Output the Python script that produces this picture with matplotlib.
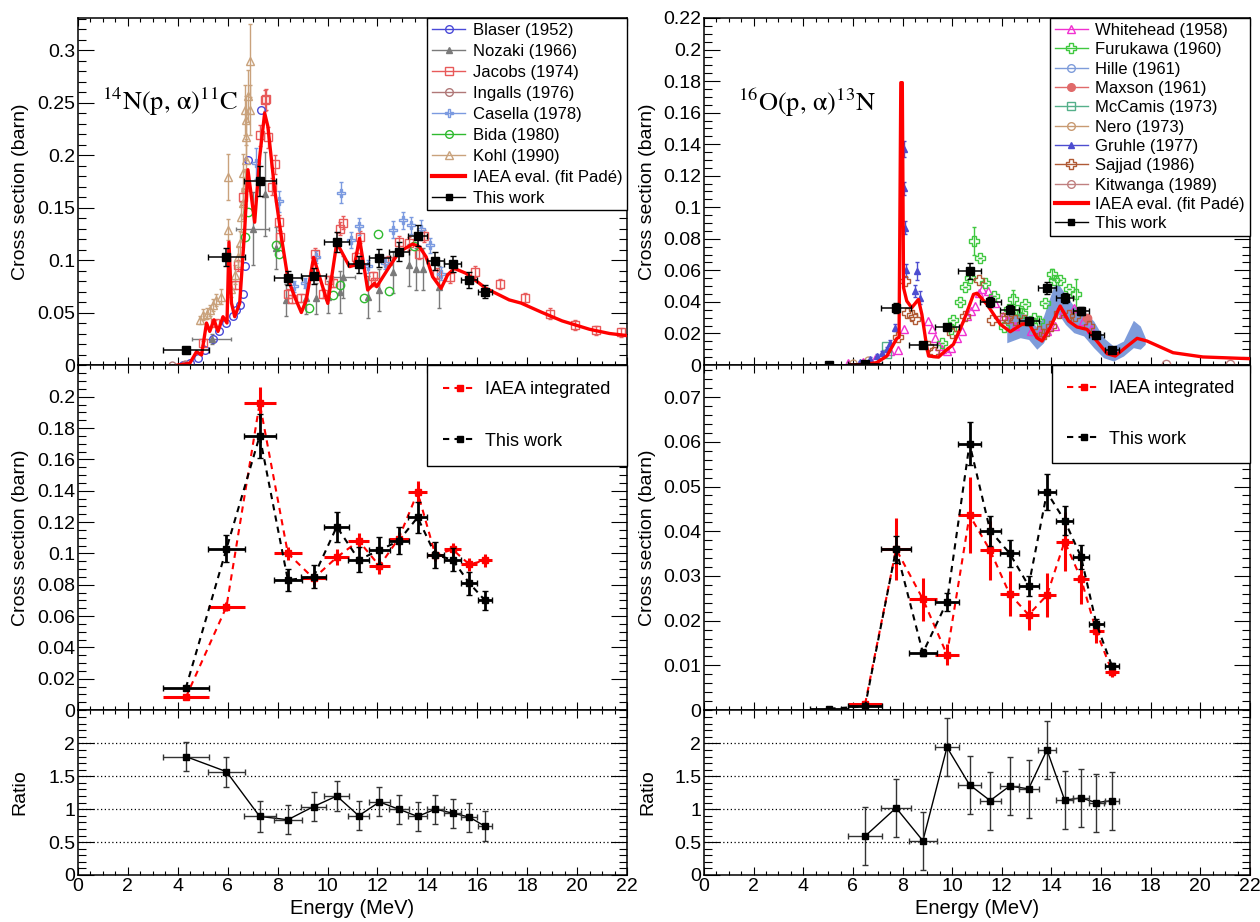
import matplotlib
matplotlib.use('Agg')
import matplotlib.pyplot as plt
from matplotlib.lines import Line2D
from matplotlib.ticker import MultipleLocator, FixedLocator, FuncFormatter

plt.rcParams['font.family'] = ['Liberation Sans', 'DejaVu Sans']
plt.rcParams['mathtext.fontset'] = 'stix'

# ---------------- LEFT: 14N(p,a)11C ----------------
E_L = [4.32, 5.95, 7.28, 8.41, 9.44, 10.37, 11.25, 12.08, 12.85, 13.61, 14.32, 15.01, 15.68, 16.31]
dE_L = [0.93, 0.73, 0.64, 0.55, 0.5, 0.5, 0.43, 0.42, 0.4, 0.38, 0.33, 0.35, 0.32, 0.3]
sig_L = [0.014, 0.103, 0.175, 0.083, 0.085, 0.117, 0.096, 0.102, 0.108, 0.123, 0.099, 0.096, 0.081, 0.070]
dsig_L = [0.0015, 0.0087, 0.0143, 0.007, 0.0074, 0.0097, 0.008, 0.0085, 0.0087, 0.01, 0.0085, 0.0074, 0.0074, 0.006]
iaea_L = [0.008, 0.066, 0.196, 0.100, 0.084, 0.0975, 0.108, 0.092, 0.1095, 0.139, 0.099, 0.1025, 0.093, 0.0955]
diaea_L = [0.001, 0.003, 0.01, 0.004, 0.004, 0.005, 0.005, 0.005, 0.004, 0.007, 0.004, 0.004, 0.004, 0.004]
ratio_L = [1.80, 1.57, 0.89, 0.84, 1.04, 1.20, 0.90, 1.11, 1.00, 0.89, 1.00, 0.94, 0.88, 0.74]
dratio_L = [0.22, 0.23, 0.23, 0.22, 0.22, 0.23, 0.22, 0.22, 0.22, 0.22, 0.22, 0.22, 0.22, 0.23]

fitL_E = [4.01, 4.48, 4.75, 4.95, 5.15, 5.28, 5.45, 5.61, 5.81, 5.97, 6.05, 6.15, 6.28, 6.48, 6.68, 6.81,
          6.95, 7.08, 7.28, 7.48, 7.61, 7.88, 8.15, 8.41, 8.68, 8.95, 9.15, 9.44, 10.01, 10.37, 10.88,
          11.08, 11.28, 11.61, 11.88, 11.97, 12.48, 12.88, 13.41, 13.68, 13.95, 14.21, 14.55, 14.81,
          15.08, 15.55, 16.35, 17.28, 17.75, 18.6, 19.4, 20.5, 21.3, 22.0]
fitL_s = [0.0, 0.0016, 0.0127, 0.0095, 0.040, 0.032, 0.043, 0.032, 0.046, 0.040, 0.117, 0.059, 0.046, 0.059,
          0.129, 0.186, 0.160, 0.136, 0.198, 0.240, 0.227, 0.167, 0.122, 0.0825, 0.065, 0.050, 0.062, 0.1025,
          0.0587, 0.1165, 0.0937, 0.095, 0.1206, 0.0714, 0.0778, 0.0746, 0.0937, 0.108, 0.1152, 0.1127,
          0.103, 0.0841, 0.073, 0.0857, 0.092, 0.0873, 0.073, 0.062, 0.059, 0.050, 0.042, 0.034, 0.030, 0.028]

blaser_E = [4.2, 4.5, 4.8, 5.1, 5.4, 5.65, 5.95, 6.2, 6.35, 6.5, 6.6, 6.68, 6.81, 7.35]
blaser_s = [0.0, 0.002, 0.007, 0.014, 0.025, 0.032, 0.040, 0.047, 0.052, 0.057, 0.068, 0.094, 0.195, 0.243]

nozaki_E = [5.35, 7.0, 7.48, 7.95, 8.35, 9.15, 9.55, 10.01, 10.51, 10.61, 11.61, 12.08, 12.64, 13.28, 13.55, 13.84, 14.48]
nozaki_s = [0.025, 0.13, 0.163, 0.111, 0.062, 0.0635, 0.0635, 0.065, 0.070, 0.084, 0.065, 0.071, 0.089, 0.095, 0.091, 0.091, 0.074]
nozaki_dE = [0.8, 0.67, 0, 0, 0, 0, 0, 0, 0, 0.5, 0, 0, 0, 0, 0, 0, 0]
nozaki_ds = [0.005, 0.035, 0.04, 0.02, 0.015, 0.015, 0.015, 0.015, 0.02, 0.02, 0.02, 0.02, 0.02, 0.02, 0.02, 0.02, 0.02]

jacobs_E = [5.01, 5.5, 6.28, 6.41, 6.6, 7.28, 7.48, 7.55, 7.61, 7.76, 7.9, 8.05, 8.1, 8.41, 8.58, 8.95, 9.48,
            9.8, 10.04, 10.2, 10.49, 10.6, 11.16, 11.29, 11.81, 11.89, 12.42, 12.85, 13.25, 13.65, 13.86,
            14.38, 14.89, 15.9, 16.92, 17.91, 18.9, 19.92, 20.77, 21.77]
jacobs_s = [0.021, 0.04, 0.076, 0.095, 0.160, 0.219, 0.252, 0.253, 0.217, 0.170, 0.191, 0.136, 0.122, 0.068,
            0.063, 0.064, 0.106, 0.068, 0.081, 0.078, 0.130, 0.1355, 0.103, 0.122, 0.085, 0.079, 0.099, 0.117,
            0.116, 0.106, 0.123, 0.087, 0.0835, 0.089, 0.077, 0.0635, 0.049, 0.038, 0.033, 0.031]
jacobs_ds = [0.002, 0.003, 0.004, 0.005, 0.008, 0.01, 0.01, 0.01, 0.01, 0.008, 0.009, 0.007, 0.006, 0.004,
             0.004, 0.004, 0.005, 0.004, 0.004, 0.004, 0.006, 0.006, 0.005, 0.006, 0.004, 0.004, 0.005, 0.006,
             0.006, 0.005, 0.006, 0.005, 0.005, 0.005, 0.005, 0.005, 0.005, 0.005, 0.004, 0.004]

ingalls_E = [3.76, 4.3]
ingalls_s = [0.0, 0.001]

casella_E = [7.15, 8.06, 8.64, 9.11, 9.53, 10.52, 10.92, 11.28, 11.61, 12.29, 12.64, 13.01, 13.33, 13.73, 14.09, 14.54]
casella_s = [0.192, 0.156, 0.075, 0.078, 0.103, 0.164, 0.119, 0.132, 0.094, 0.097, 0.129, 0.138, 0.133, 0.130, 0.114, 0.087]
casella_ds = [0.015, 0.01, 0.005, 0.005, 0.006, 0.01, 0.008, 0.008, 0.006, 0.006, 0.008, 0.008, 0.008, 0.008, 0.007, 0.006]

bida_E = [6.68, 6.81, 7.95, 8.05, 9.25, 10.21, 10.51, 11.48, 12.01, 12.48, 13.48]
bida_s = [0.122, 0.146, 0.114, 0.106, 0.054, 0.067, 0.076, 0.0635, 0.125, 0.0705, 0.113]

kohl_E = [4.88, 5.01, 5.15, 5.28, 5.41, 5.55, 5.75, 6.01, 6.01, 6.15, 6.28, 6.41, 6.48, 6.55, 6.61, 6.61,
          6.68, 6.68, 6.75, 6.75, 6.75, 6.81, 6.88, 6.88]
kohl_s = [0.043, 0.048, 0.049, 0.052, 0.057, 0.062, 0.065, 0.129, 0.179, 0.072, 0.086, 0.103, 0.116, 0.141,
          0.154, 0.183, 0.170, 0.243, 0.195, 0.217, 0.233, 0.256, 0.243, 0.29]
kohl_ds = [0.004, 0.005, 0.005, 0.005, 0.006, 0.006, 0.007, 0.01, 0.022, 0.007, 0.009, 0.01, 0.012, 0.014,
           0.015, 0.018, 0.017, 0.024, 0.02, 0.022, 0.023, 0.025, 0.024, 0.035]

# ---------------- RIGHT: 16O(p,a)13N ----------------
E_R = [5.05, 6.49, 7.74, 8.82, 9.79, 10.7, 11.53, 12.31, 13.08, 13.82, 14.53, 15.19, 15.81, 16.44]
dE_R = [0.77, 0.68, 0.6, 0.55, 0.48, 0.47, 0.42, 0.4, 0.4, 0.38, 0.35, 0.33, 0.3, 0.3]
sig_R = [0.0003, 0.0008, 0.036, 0.0128, 0.0242, 0.0596, 0.0401, 0.0351, 0.0278, 0.0487, 0.0424, 0.0343, 0.0193, 0.0098]
dsig_R = [0.0002, 0.0003, 0.003, 0.0008, 0.002, 0.0048, 0.0033, 0.003, 0.0022, 0.004, 0.0032, 0.0027, 0.001, 0.0007]
Ei_R = [6.49, 7.74, 8.82, 9.79, 10.7, 11.53, 12.31, 13.08, 13.82, 14.53, 15.19, 15.81, 16.44]
dEi_R = [0.68, 0.6, 0.55, 0.48, 0.47, 0.42, 0.4, 0.4, 0.38, 0.35, 0.33, 0.3, 0.3]
iaea_R = [0.0013, 0.036, 0.0248, 0.0124, 0.0436, 0.0357, 0.026, 0.0213, 0.0257, 0.0377, 0.0294, 0.0176, 0.0086]
diaea_R = [0.0003, 0.007, 0.0048, 0.0023, 0.0085, 0.0065, 0.005, 0.0033, 0.005, 0.0067, 0.0057, 0.0025, 0.0012]
ratio_R = [0.59, 1.02, 0.52, 1.94, 1.37, 1.13, 1.35, 1.31, 1.90, 1.14, 1.17, 1.10, 1.13]
dratio_R = [0.44, 0.44, 0.44, 0.44, 0.44, 0.44, 0.44, 0.44, 0.44, 0.44, 0.44, 0.44, 0.44]

fitR_E = [5.89, 6.5, 6.96, 7.37, 7.77, 7.86, 7.93, 7.99, 8.04, 8.17, 8.37, 8.64, 8.78, 8.98, 9.05, 9.45, 9.72,
          10.05, 10.46, 10.86, 11.0, 11.4, 11.94, 12.34, 12.81, 13.08, 13.41, 13.62, 13.95, 14.35, 14.69,
          15.03, 15.43, 15.83, 16.24, 16.57, 16.98, 17.45, 17.85, 18.9, 20.1, 22.0]
fitR_s = [0.0, 0.0005, 0.0015, 0.0057, 0.0169, 0.0175, 0.179, 0.179, 0.049, 0.0406, 0.0363, 0.0416, 0.032,
          0.011, 0.0057, 0.005, 0.0089, 0.0131, 0.0279, 0.0448, 0.0455, 0.0385, 0.0258, 0.0211, 0.0258,
          0.0268, 0.0173, 0.0152, 0.0237, 0.0374, 0.0279, 0.0241, 0.0226, 0.0152, 0.0072, 0.0057, 0.011,
          0.0169, 0.0152, 0.0078, 0.0051, 0.004]

wh_E = [5.8, 6.4, 6.9, 7.5, 7.83, 8.06, 9.04, 9.18, 9.31, 9.45, 9.6, 9.79, 9.95, 10.19, 10.39, 10.59, 10.75,
        10.93, 11.08, 11.2, 11.43, 11.53, 11.73, 12.05, 12.2, 12.54, 13.19, 13.55, 13.83, 14.16, 14.48,
        14.89, 15.29, 15.61]
wh_s = [0.001, 0.002, 0.004, 0.0089, 0.0095, 0.0226, 0.0279, 0.0226, 0.0173, 0.012, 0.0099, 0.0089, 0.011,
        0.0173, 0.0216, 0.031, 0.034, 0.0374, 0.0458, 0.048, 0.047, 0.0427, 0.0395, 0.031, 0.029, 0.0247,
        0.0215, 0.0205, 0.0215, 0.0247, 0.0331, 0.0363, 0.0279, 0.0226]

fu_E = [9.58, 9.95, 10.05, 10.32, 10.52, 10.73, 10.86, 11.13, 11.33, 11.67, 12.09, 12.27, 12.47, 12.6,
        12.81, 12.94, 13.28, 13.48, 13.75, 14.02, 14.09, 14.35, 14.7, 15.0]
fu_s = [0.014, 0.0226, 0.0283, 0.040, 0.0495, 0.055, 0.0786, 0.068, 0.052, 0.044, 0.024, 0.0353, 0.0417,
        0.035, 0.0332, 0.0384, 0.030, 0.0279, 0.0395, 0.0579, 0.0536, 0.0537, 0.048, 0.0448]
fu_ds = [0.0, 0.0, 0.0, 0.0, 0.0, 0.0, 0.009, 0.0, 0.0, 0.0, 0.0, 0.0, 0.006, 0.0, 0.0, 0.0, 0.0, 0.0,
         0.0, 0.003, 0.0, 0.0, 0.0, 0.01]

hi_E = [12.2, 12.74, 13.08, 13.41, 13.68, 14.09, 14.29, 14.56, 14.9, 15.3, 15.7, 16.1, 16.5, 16.9, 17.3, 17.58, 17.78]
hi_lo = [0.0141, 0.0173, 0.0162, 0.010, 0.0141, 0.0279, 0.0321, 0.0258, 0.0205, 0.0184, 0.011, 0.0046,
         0.0025, 0.0057, 0.011, 0.010, 0.0131]
hi_hi = [0.031, 0.0332, 0.031, 0.0237, 0.031, 0.050, 0.0512, 0.0448, 0.0374, 0.0342, 0.0279, 0.0173,
         0.012, 0.0152, 0.0283, 0.0247, 0.0173]

maxson_E = [15.43]
maxson_s = [0.030]
mccamis_E = [7.34, 7.36]
mccamis_s = [0.012, 0.0068]
nero_E = [6.0, 6.6]
nero_s = [0.001, 0.003]
gr_E = [6.3, 6.69, 6.96, 7.17, 7.37, 7.5, 7.7, 8.04, 8.06, 8.1, 8.15, 8.51, 8.58, 8.71]
gr_s = [0.002, 0.004, 0.0057, 0.0078, 0.010, 0.014, 0.0237, 0.137, 0.112, 0.087, 0.060, 0.047, 0.0596, 0.0427]
gr_ds = [0.0005, 0.0008, 0.001, 0.001, 0.0015, 0.002, 0.002, 0.005, 0.004, 0.004, 0.004, 0.004, 0.006, 0.004]
sa_E = [7.8, 8.1, 8.17, 8.37, 8.51, 9.04, 9.25, 9.99, 10.52, 11.08, 11.6, 12.0, 12.2, 12.52, 12.9, 13.48,
        13.68, 14.0, 14.29, 14.7, 14.96, 15.5]
sa_s = [0.018, 0.053, 0.033, 0.032, 0.029, 0.012, 0.008, 0.0205, 0.031, 0.054, 0.0288, 0.030, 0.0298,
        0.0283, 0.0283, 0.0215, 0.0195, 0.0247, 0.0332, 0.032, 0.031, 0.0247]
kit_E = [18.6, 21.2]
kit_s = [0.0008, 0.0008]

# tick values
xticks = [0, 2, 4, 6, 8, 10, 12, 14, 16, 18, 20, 22]
yt_topL = [0, 0.05, 0.1, 0.15, 0.2, 0.25, 0.3]
yt_midL = [0, 0.02, 0.04, 0.06, 0.08, 0.1, 0.12, 0.14, 0.16, 0.18, 0.2]
yt_topR = [0, 0.02, 0.04, 0.06, 0.08, 0.1, 0.12, 0.14, 0.16, 0.18, 0.2, 0.22]
yt_midR = [0, 0.01, 0.02, 0.03, 0.04, 0.05, 0.06, 0.07]
yt_rat = [0, 0.5, 1, 1.5, 2]
ratio_grid = [0.5, 1.0, 1.5, 2.0]

# colours
C_BLASER = '#4a4ad8'; C_NOZAKI = '#7a7a7a'; C_JACOBS = '#e85a5a'; C_INGALLS = '#b07878'
C_CASELLA = '#7b9ae0'; C_BIDA = '#2fba2f'; C_KOHL = '#c9a27c'
C_WH = '#f030d0'; C_FU = '#40c840'; C_HI = '#7e9cda'; C_MAX = '#e06a6a'; C_MCC = '#55b08a'
C_NERO = '#c89a72'; C_GR = '#4d4dd0'; C_SA = '#b05a35'; C_KIT = '#c08080'

fig = plt.figure(figsize=(12.6, 9.22), dpi=100)
LX, LW = 78 / 1260, 549 / 1260
RX, RW = 704 / 1260, 546 / 1260
TOP = (0.60412, 0.37636)
MID = (0.22993, 0.37419)
BOT = (0.05098, 0.17896)

fmt = FuncFormatter(lambda v, p: '%g' % round(v, 4))


def style(ax, yt, yminor, ylim, showx=False):
    ax.set_xlim(0, 22)
    ax.set_ylim(*ylim)
    ax.xaxis.set_major_locator(FixedLocator(xticks))
    ax.xaxis.set_minor_locator(MultipleLocator(0.5))
    ax.yaxis.set_major_locator(FixedLocator(yt))
    ax.yaxis.set_minor_locator(MultipleLocator(yminor))
    ax.xaxis.set_major_formatter(fmt)
    ax.yaxis.set_major_formatter(fmt)
    ax.tick_params(which='both', direction='in', top=True, right=True, width=0.8, labelsize=14, pad=2)
    ax.tick_params(axis='x', which='major', length=5.8)
    ax.tick_params(axis='x', which='minor', length=2.9)
    ax.tick_params(axis='y', which='major', length=11.5)
    ax.tick_params(axis='y', which='minor', length=5.8)
    if not showx:
        ax.tick_params(labelbottom=False)
    for s in ax.spines.values():
        s.set_linewidth(1.1)


def pts(ax, x, y, c, m, filled=False, ms=5.5, yerr=None, xerr=None, z=3):
    ax.errorbar(x, y, yerr=yerr, xerr=xerr, fmt=m, ms=ms, mec=c, mfc=(c if filled else 'none'),
                mew=1.0, ecolor=c, elinewidth=1.0, capsize=1.5, zorder=z)


def hnd(c, m, filled=False, ms=5.5):
    return Line2D([], [], color=c, marker=m, ms=ms, mec=c, mfc=(c if filled else 'none'), lw=1.0)


LEG_KW = dict(frameon=True, fancybox=False, framealpha=1, edgecolor='black', borderaxespad=0,
              handletextpad=0.45, loc='upper right', bbox_to_anchor=(1, 1))
YLAB_X_L = -0.09
YLAB_X_R = -0.088

# ---- top left ----
ax = fig.add_axes([LX, TOP[0], LW, TOP[1]])
style(ax, yt_topL, 0.01, (0, 0.3305))
pts(ax, blaser_E, blaser_s, C_BLASER, 'o')
pts(ax, nozaki_E, nozaki_s, C_NOZAKI, '^', filled=True, ms=5, yerr=nozaki_ds, xerr=nozaki_dE)
pts(ax, jacobs_E, jacobs_s, C_JACOBS, 's', yerr=jacobs_ds)
pts(ax, ingalls_E, ingalls_s, C_INGALLS, 'o', ms=5)
pts(ax, casella_E, casella_s, C_CASELLA, 'P', ms=6, yerr=casella_ds)
pts(ax, bida_E, bida_s, C_BIDA, 'o', ms=6)
pts(ax, kohl_E, kohl_s, C_KOHL, '^', ms=6, yerr=kohl_ds)
ax.plot(fitL_E, fitL_s, color='red', lw=2.4, zorder=5)
ax.errorbar(E_L, sig_L, xerr=dE_L, yerr=dsig_L, fmt='s', ms=5.5, color='black', elinewidth=1.1,
            capsize=2, zorder=6)
ax.text(0.044, 0.735, r'$^{14}$N(p, α)$^{11}$C', transform=ax.transAxes,
        fontsize=19, va='baseline', family='STIXGeneral')
ax.set_ylabel('Cross section (barn)', fontsize=14)
ax.yaxis.set_label_coords(YLAB_X_L, 0.5)
hl = [hnd(C_BLASER, 'o'), hnd(C_NOZAKI, '^', True, 5), hnd(C_JACOBS, 's'), hnd(C_INGALLS, 'o'),
      hnd(C_CASELLA, 'P', ms=6), hnd(C_BIDA, 'o'), hnd(C_KOHL, '^'), Line2D([], [], color='red', lw=3),
      hnd('black', 's', True, 5)]
ll = ['Blaser (1952)', 'Nozaki (1966)', 'Jacobs (1974)', 'Ingalls (1976)', 'Casella (1978)', 'Bida (1980)',
      'Kohl (1990)', 'IAEA eval. (fit Padé)', 'This work']
lg = ax.legend(hl, ll, fontsize=12, labelspacing=0.36, borderpad=0.28, handlelength=2.0, **LEG_KW)
lg.get_frame().set_linewidth(1.0)

# ---- middle left ----
ax = fig.add_axes([LX, MID[0], LW, MID[1]])
style(ax, yt_midL, 0.005, (0, 0.2203))
ax.plot(E_L, iaea_L, color='red', lw=1.5, ls=(0, (3, 2.5)), zorder=3)
ax.errorbar(E_L, iaea_L, xerr=dE_L, yerr=diaea_L, fmt='s', ms=5, color='red', elinewidth=2.2, capsize=0, zorder=4)
ax.plot(E_L, sig_L, color='black', lw=1.5, ls=(0, (3, 2.5)), zorder=5)
ax.errorbar(E_L, sig_L, xerr=dE_L, yerr=dsig_L, fmt='s', ms=5, color='black', elinewidth=2.0, capsize=2, zorder=6)
ax.set_ylabel('Cross section (barn)', fontsize=14)
ax.yaxis.set_label_coords(YLAB_X_L, 0.5)
hm = [Line2D([], [], color='red', lw=1.5, ls=(0, (3, 2.5)), marker='s', ms=5),
      Line2D([], [], color='black', lw=1.5, ls=(0, (3, 2.5)), marker='s', ms=5)]
lg = ax.legend(hm, ['IAEA integrated', 'This work'], fontsize=13, labelspacing=1.9, borderpad=0.9,
               handlelength=1.9, **LEG_KW)
lg.get_frame().set_linewidth(1.0)

# ---- bottom left ----
ax = fig.add_axes([LX, BOT[0], LW, BOT[1]])
style(ax, yt_rat, 0.1, (0, 2.507), showx=True)
for g in ratio_grid:
    ax.axhline(g, color='black', lw=0.9, ls=(0, (1, 2)), zorder=1)
ax.plot(E_L, ratio_L, color='black', lw=1.0, zorder=3)
ax.errorbar(E_L, ratio_L, xerr=dE_L, yerr=dratio_L, fmt='s', ms=5, color='black', ecolor='#333333',
            elinewidth=1.0, capsize=2, zorder=4)
ax.set_ylabel('Ratio', fontsize=14)
ax.yaxis.set_label_coords(YLAB_X_L, 0.5)
ax.set_xlabel('Energy (MeV)', fontsize=14.5, labelpad=3)

# ---- top right ----
ax = fig.add_axes([RX, TOP[0], RW, TOP[1]])
style(ax, yt_topR, 0.005, (0, 0.22))
ax.fill_between(hi_E, hi_lo, hi_hi, color=C_HI, lw=0, zorder=2)
pts(ax, wh_E, wh_s, C_WH, '^', ms=6)
pts(ax, fu_E, fu_s, C_FU, 'P', ms=7.5, yerr=fu_ds)
pts(ax, maxson_E, maxson_s, C_MAX, 'o', filled=True, ms=6)
pts(ax, mccamis_E, mccamis_s, C_MCC, 's', ms=6)
pts(ax, nero_E, nero_s, C_NERO, 'o', ms=5)
pts(ax, gr_E, gr_s, C_GR, '^', filled=True, ms=5, yerr=gr_ds)
pts(ax, sa_E, sa_s, C_SA, 'P', ms=7)
pts(ax, kit_E, kit_s, C_KIT, 'o', ms=6)
ax.plot(fitR_E, fitR_s, color='red', lw=2.4, zorder=5)
ax.errorbar(E_R, sig_R, xerr=dE_R, yerr=dsig_R, fmt='s', ms=5.5, color='black', elinewidth=1.1,
            capsize=2, zorder=6)
ax.text(0.062, 0.732, r'$^{16}$O(p, α)$^{13}$N', transform=ax.transAxes,
        fontsize=19, va='baseline', family='STIXGeneral')
ax.set_ylabel('Cross section (barn)', fontsize=14)
ax.yaxis.set_label_coords(YLAB_X_R, 0.5)
hr = [hnd(C_WH, '^'), hnd(C_FU, 'P', ms=6.5), hnd(C_HI, 'o'), hnd(C_MAX, 'o', True), hnd(C_MCC, 's'),
      hnd(C_NERO, 'o'), hnd(C_GR, '^', True, 5), hnd(C_SA, 'P', ms=6.5), hnd(C_KIT, 'o'),
      Line2D([], [], color='red', lw=3), hnd('black', 's', True, 5)]
lr = ['Whitehead (1958)', 'Furukawa (1960)', 'Hille (1961)', 'Maxson (1961)', 'McCamis (1973)', 'Nero (1973)',
      'Gruhle (1977)', 'Sajjad (1986)', 'Kitwanga (1989)', 'IAEA eval. (fit Padé)', 'This work']
lg = ax.legend(hr, lr, fontsize=12, labelspacing=0.26, borderpad=0.3, handlelength=2.0, **LEG_KW)
lg.get_frame().set_linewidth(1.0)

# ---- middle right ----
ax = fig.add_axes([RX, MID[0], RW, MID[1]])
style(ax, yt_midR, 0.002, (0, 0.0772))
ax.plot(Ei_R, iaea_R, color='red', lw=1.5, ls=(0, (3, 2.5)), zorder=3)
ax.errorbar(Ei_R, iaea_R, xerr=dEi_R, yerr=diaea_R, fmt='s', ms=5, color='red', elinewidth=2.2, capsize=0, zorder=4)
ax.plot(E_R, sig_R, color='black', lw=1.5, ls=(0, (3, 2.5)), zorder=5)
ax.errorbar(E_R, sig_R, xerr=dE_R, yerr=dsig_R, fmt='s', ms=5, color='black', elinewidth=2.0, capsize=2, zorder=6)
ax.set_ylabel('Cross section (barn)', fontsize=14)
ax.yaxis.set_label_coords(YLAB_X_R, 0.5)
lg = ax.legend(hm, ['IAEA integrated', 'This work'], fontsize=13, labelspacing=1.85, borderpad=0.85,
               handlelength=1.9, **LEG_KW)
lg.get_frame().set_linewidth(1.0)

# ---- bottom right ----
ax = fig.add_axes([RX, BOT[0], RW, BOT[1]])
style(ax, yt_rat, 0.1, (0, 2.507), showx=True)
for g in ratio_grid:
    ax.axhline(g, color='black', lw=0.9, ls=(0, (1, 2)), zorder=1)
ax.plot(Ei_R, ratio_R, color='black', lw=1.0, zorder=3)
ax.errorbar(Ei_R, ratio_R, xerr=dEi_R, yerr=dratio_R, fmt='s', ms=5, color='black', ecolor='#333333',
            elinewidth=1.0, capsize=2, zorder=4)
ax.set_ylabel('Ratio', fontsize=14)
ax.yaxis.set_label_coords(YLAB_X_R, 0.5)
ax.set_xlabel('Energy (MeV)', fontsize=14.5, labelpad=3)

fig.savefig('out.png', dpi=100)
